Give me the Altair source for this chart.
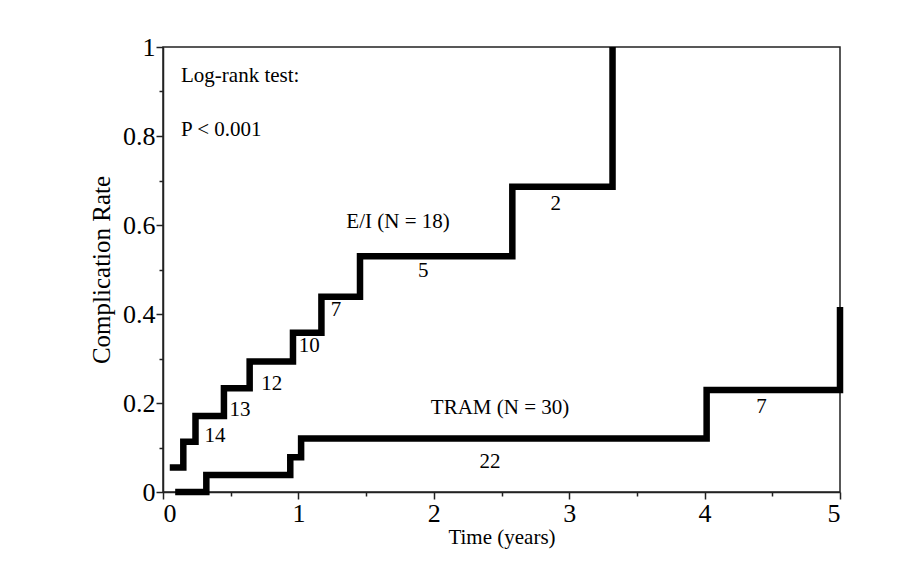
import altair as alt
import pandas as pd

# E/I group step curve (time in years, cumulative complication rate)
ei_time = [0.05, 0.15, 0.24, 0.45, 0.64, 0.96, 1.17, 1.455, 2.58, 3.32]
ei_rate = [0.055, 0.113, 0.171, 0.233, 0.293, 0.358, 0.439, 0.530, 0.686, 1.0]

# TRAM group step curve
tram_time = [0.09, 0.32, 0.94, 1.02, 4.015, 5.0]
tram_rate = [0.0, 0.038, 0.078, 0.12, 0.229, 0.416]

# annotations
ann_text = ["Log-rank test:", "P < 0.001", "E/I (N = 18)", "5", "2", "7", "10", "12", "13", "14",
            "TRAM (N = 30)", "22", "7"]
ann_x = [0.133, 0.133, 1.736, 1.923, 2.90, 1.278, 1.08, 0.803, 0.569, 0.384, 2.489, 2.415, 4.42]
ann_y = [0.9355, 0.813, 0.607, 0.497, 0.647, 0.41, 0.328, 0.243, 0.184, 0.126, 0.189, 0.068, 0.19]
ann_align = ["left", "left", "center", "center", "center", "center", "center", "center", "center",
             "center", "center", "center", "center"]

x_ticks = [0, 0.5, 1, 1.5, 2, 2.5, 3, 3.5, 4, 4.5, 5]
y_ticks = [0, 0.1, 0.2, 0.3, 0.4, 0.5, 0.6, 0.7, 0.8, 0.9, 1.0]

curves = pd.DataFrame({
    "time": ei_time + tram_time,
    "rate": ei_rate + tram_rate,
    "group": ["E/I"] * len(ei_time) + ["TRAM"] * len(tram_time),
})
ann = pd.DataFrame({"text": ann_text, "x": ann_x, "y": ann_y, "align": ann_align})

FONT = "Liberation Serif"

xscale = alt.Scale(domain=[0, 5], nice=False, zero=False)
yscale = alt.Scale(domain=[0, 1], nice=False)

x_axis = alt.Axis(
    values=x_ticks,
    labelExpr="datum.value % 1 == 0 ? datum.label : ''",
    tickSize={"condition": {"test": "datum.value % 1 == 0", "value": 7}, "value": 4},
    grid=False, title="Time (years)", format="~g",
    labelFont=FONT, labelFontSize=26, labelColor="black", labelPadding=1,
    titleFont=FONT, titleFontSize=21, titleFontWeight="normal", titleColor="black", titlePadding=0,
    domainColor="#222", domainWidth=1.5, tickColor="#222", tickWidth=1.5,
)
y_axis = alt.Axis(
    values=y_ticks,
    labelExpr="round(datum.value * 10) % 2 == 0 ? datum.label : ''",
    tickSize={"condition": {"test": "round(datum.value * 10) % 2 == 0", "value": 7}, "value": 4},
    grid=False, title="Complication Rate", format="~g",
    labelFont=FONT, labelFontSize=26, labelColor="black", labelPadding=1,
    titleFont=FONT, titleFontSize=25, titleFontWeight="normal", titleColor="black", titlePadding=8,
    domainColor="#222", domainWidth=1.5, tickColor="#222", tickWidth=1.5,
)

lines = alt.Chart(curves).mark_line(
    interpolate="step-after", color="black", strokeWidth=6.5, strokeJoin="miter", strokeCap="butt"
).encode(
    x=alt.X("time:Q", scale=xscale, axis=x_axis),
    y=alt.Y("rate:Q", scale=yscale, axis=y_axis),
    detail="group:N",
)

texts_left = alt.Chart(ann[ann["align"] == "left"]).mark_text(
    font=FONT, fontSize=21, color="black", align="left", baseline="middle"
).encode(x=alt.X("x:Q", scale=xscale), y=alt.Y("y:Q", scale=yscale), text="text:N")

texts_center = alt.Chart(ann[ann["align"] == "center"]).mark_text(
    font=FONT, fontSize=21, color="black", align="center", baseline="middle"
).encode(x=alt.X("x:Q", scale=xscale), y=alt.Y("y:Q", scale=yscale), text="text:N")

chart = alt.layer(lines, texts_left, texts_center).properties(
    width=677, height=445,
    autosize=alt.AutoSizeParams(type="none"),
    padding={"left": 155, "top": 39, "right": 60, "bottom": 66},
    background="white",
).configure_view(stroke="#222", strokeWidth=1.5)

chart.save("out.html", embed_options={"renderer": "svg", "actions": False})
